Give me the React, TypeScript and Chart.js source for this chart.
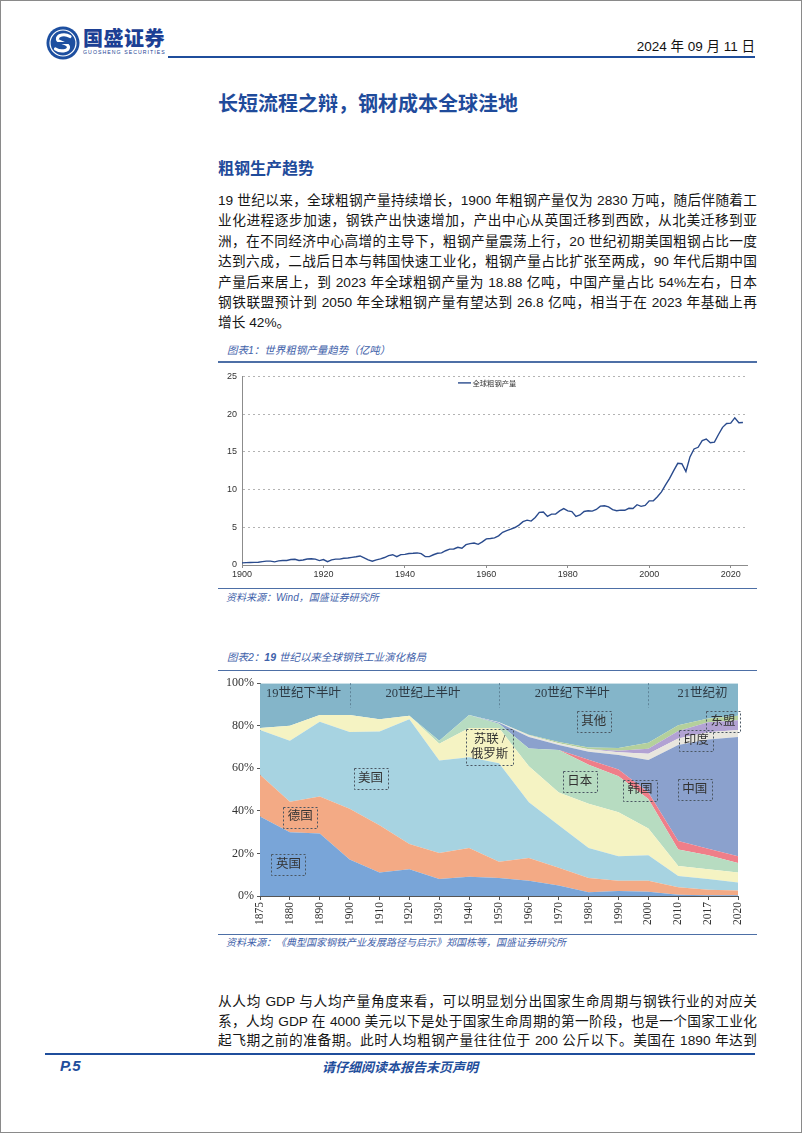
import React, { useEffect, useRef } from "react";
import { Chart, registerables } from "chart.js";

Chart.register(...registerables);

// ---------------- Chart 1: world crude steel output (亿吨) ----------------
const productionStartYear = 1900;
const worldCrudeSteel = [
  0.28, 0.31, 0.34, 0.35, 0.36, 0.44, 0.51, 0.52, 0.42, 0.54,
  0.60, 0.60, 0.72, 0.76, 0.60, 0.66, 0.80, 0.82, 0.78, 0.58,
  0.72, 0.44, 0.68, 0.78, 0.78, 0.90, 0.93, 1.01, 1.09, 1.20,
  0.95, 0.69, 0.50, 0.68, 0.82, 0.99, 1.24, 1.36, 1.10, 1.37,
  1.41, 1.52, 1.55, 1.60, 1.50, 1.13, 1.11, 1.36, 1.55, 1.60,
  1.89, 2.10, 2.12, 2.35, 2.23, 2.70, 2.83, 2.92, 2.74, 3.06,
  3.47, 3.51, 3.60, 3.86, 4.34, 4.56, 4.75, 4.97, 5.29, 5.74,
  5.95, 5.82, 6.30, 6.97, 7.03, 6.44, 6.75, 6.75, 7.17, 7.47,
  7.17, 7.07, 6.45, 6.63, 7.10, 7.19, 7.14, 7.36, 7.80, 7.86,
  7.70, 7.34, 7.20, 7.28, 7.25, 7.52, 7.50, 7.99, 7.77, 7.89,
  8.50, 8.52, 9.05, 9.70, 10.63, 11.48, 12.50, 13.48, 13.43, 12.39,
  14.33, 15.38, 15.60, 16.50, 16.70, 16.20, 16.28, 17.30, 18.25, 18.75,
  18.80, 19.51, 18.85, 18.88,
];
const productionYears = worldCrudeSteel.map((_, i) => productionStartYear + i);
const productionXTicks = [1900, 1920, 1940, 1960, 1980, 2000, 2020];
const productionYTicks = [0, 5, 10, 15, 20, 25];
const productionSeriesName = "全球粗钢产量";

// ---------------- Chart 2: share of world steel output (%) ----------------
const shareYears = ["1875", "1880", "1890", "1900", "1910", "1920", "1930", "1940", "1950", "1960", "1970", "1980", "1990", "2000", "2010", "2017", "2020"];
const shareUK = [37.4, 30, 29.4, 17.2, 11, 12.6, 8, 9, 8.4, 7.2, 4.9, 1.8, 2.3, 2, 0.6, 0.4, 0.3];
const shareGermany = [19.6, 14.3, 17.4, 23.8, 22.3, 11.8, 12.2, 13.5, 7.7, 10.7, 8.4, 6.6, 4.9, 5.2, 3.5, 2.5, 2.3];
const shareUS = [21, 28.6, 35.1, 36.1, 44, 58.7, 43.5, 42.7, 46.3, 26.1, 20, 14.1, 11.5, 12, 5.3, 5.1, 3.8];
const shareUSSR = [1, 7.1, 3.2, 8, 5.8, 1.6, 7.9, 13.8, 16.6, 17, 15.3, 20.8, 20.7, 12.5, 4.7, 4.6, 4.6];
const shareJapan = [0, 0, 0, 0, 0, 0, 1.3, 6, 2, 8.3, 20, 18.4, 16.9, 13.9, 7.7, 6.6, 4.5];
const shareKorea = [0, 0, 0, 0, 0, 0, 0, 0, 0, 0, 0, 2.3, 3.1, 3, 4.1, 3, 3.2];
const shareChina = [0, 0, 0, 0, 0, 0, 0, 0, 0.4, 5.4, 2.3, 3.8, 6.9, 15.3, 45.1, 51.3, 56];
const shareIndia = [0, 0, 0, 0, 0, 0, 0, 0, 0.2, 0.8, 0.9, 1.2, 1.3, 3, 3, 3.5, 3.3];
const shareASEAN = [0, 0, 0, 0, 0, 0, 0, 0, 0, 0, 0, 0, 0.7, 2.3, 3.5, 4.6, 4.6];
const shareMinor = [0, 0, 0, 0, 0, 0, 0, 0, 0, 0.3, 0.6, 0.8, 1.3, 2.8, 2.7, 1.8, 2.1];
const shareOther = [21, 20, 14.9, 14.9, 16.9, 15.3, 27.1, 15, 18.4, 24.2, 27.6, 30.2, 30.4, 28, 19.8, 16.6, 15.3];
const shareYTicks = [0, 20, 40, 60, 80, 100];

const shareSeries = [
  { name: "英国", data: shareUK, color: "#79a5d8" },
  { name: "德国", data: shareGermany, color: "#f3aa85" },
  { name: "美国", data: shareUS, color: "#a7d3e1" },
  { name: "苏联/俄罗斯", data: shareUSSR, color: "#f5f3c3" },
  { name: "日本", data: shareJapan, color: "#b7dcc1" },
  { name: "韩国", data: shareKorea, color: "#ef7e89" },
  { name: "中国", data: shareChina, color: "#8ba1cd" },
  { name: "印度", data: shareIndia, color: "#e8e6de" },
  { name: "东盟", data: shareASEAN, color: "#b2a2d3" },
  { name: "其他小国", data: shareMinor, color: "#b4d09c" },
  { name: "其他", data: shareOther, color: "#84b5c9" },
];

// annotations placed in data coordinates: [category index, percent]
const eraLabels = [
  { text: "19世纪下半叶", at: [1.46, 94.9] },
  { text: "20世纪上半叶", at: [5.46, 94.9] },
  { text: "20世纪下半叶", at: [10.45, 94.9] },
  { text: "21世纪初", at: [14.81, 94.9] },
];
const eraDividers = [3, 8, 13];
const countryTags = [
  { lines: ["英国"], at: [0.95, 14.7] },
  { lines: ["德国"], at: [1.35, 37.1] },
  { lines: ["美国"], at: [3.7, 55.2] },
  { lines: ["苏联 /", "俄罗斯"], at: [7.68, 70.1] },
  { lines: ["日本"], at: [10.7, 53.8] },
  { lines: ["其他"], at: [11.17, 81.9] },
  { lines: ["韩国"], at: [12.72, 49.8] },
  { lines: ["中国"], at: [14.55, 50] },
  { lines: ["印度"], at: [14.6, 73.2] },
  { lines: ["东盟"], at: [15.5, 81.9] },
];

// ---------------- text ----------------
const para1 = [
  "19 世纪以来，全球粗钢产量持续增长，1900 年粗钢产量仅为 2830 万吨，随后伴随着工",
  "业化进程逐步加速，钢铁产出快速增加，产出中心从英国迁移到西欧，从北美迁移到亚",
  "洲，在不同经济中心高增的主导下，粗钢产量震荡上行，20 世纪初期美国粗钢占比一度",
  "达到六成，二战后日本与韩国快速工业化，粗钢产量占比扩张至两成，90 年代后期中国",
  "产量后来居上，到 2023 年全球粗钢产量为 18.88 亿吨，中国产量占比 54%左右，日本",
  "钢铁联盟预计到 2050 年全球粗钢产量有望达到 26.8 亿吨，相当于在 2023 年基础上再",
  "增长 42%。",
];
const para2 = [
  "从人均 GDP 与人均产量角度来看，可以明显划分出国家生命周期与钢铁行业的对应关",
  "系，人均 GDP 在 4000 美元以下是处于国家生命周期的第一阶段，也是一个国家工业化",
  "起飞期之前的准备期。此时人均粗钢产量往往位于 200 公斤以下。美国在 1890 年达到",
];

const BLUE = "#1f4b9b";
const CAPTION = "#3f62aa";
const RULE = "#4d6fa6";
const SANS = '"Liberation Sans", "Noto Sans CJK SC", sans-serif';
const CJK = '"Noto Sans CJK SC", sans-serif';

function ProductionChart() {
  const ref = useRef<HTMLCanvasElement | null>(null);
  useEffect(() => {
    if (!ref.current) return;
    const legendPlugin = {
      id: "legend1",
      afterDatasetsDraw(chart: any) {
        const { ctx, chartArea } = chart;
        const x = chartArea.left + 216;
        const y = chartArea.top + 6.5;
        ctx.save();
        ctx.strokeStyle = "#2a4b8d";
        ctx.lineWidth = 1.4;
        ctx.beginPath();
        ctx.moveTo(x, y);
        ctx.lineTo(x + 13, y);
        ctx.stroke();
        ctx.fillStyle = "#333";
        ctx.font = '7.3px "Noto Sans CJK SC"';
        ctx.textBaseline = "middle";
        ctx.fillText(productionSeriesName, x + 14.5, y);
        ctx.restore();
      },
    };
    const chart = new Chart(ref.current, {
      type: "line",
      data: {
        datasets: [
          {
            label: productionSeriesName,
            data: productionYears.map((yr, i) => ({ x: yr, y: worldCrudeSteel[i] })),
            borderColor: "#2a4b8d",
            borderWidth: 1.4,
            pointRadius: 0,
            tension: 0,
            fill: false,
          },
        ],
      },
      options: {
        animation: false,
        responsive: false,
        devicePixelRatio: 1,
        layout: { padding: { left: 0, right: 10, top: 10, bottom: 0 } },
        plugins: { legend: { display: false }, tooltip: { enabled: false } },
        scales: {
          x: {
            type: "linear",
            min: 1900,
            max: 2024,
            afterBuildTicks: (s: any) => {
              s.ticks = productionXTicks.map((v) => ({ value: v }));
            },
            afterFit: (s: any) => {
              s.height = 21;
            },
            ticks: {
              color: "#333",
              font: { family: '"Liberation Sans"', size: 9 },
              padding: 1,
              maxRotation: 0,
              callback: (v: any) => String(v),
            },
            grid: { drawOnChartArea: false, drawTicks: true, tickLength: 3, color: "#8c8c8c" },
            border: { color: "#8c8c8c" },
          },
          y: {
            min: 0,
            max: 25,
            afterBuildTicks: (s: any) => {
              s.ticks = productionYTicks.map((v) => ({ value: v }));
            },
            afterFit: (s: any) => {
              s.width = 24;
            },
            ticks: { color: "#333", font: { family: '"Liberation Sans"', size: 9 }, padding: 5 },
            grid: {
              drawTicks: false,
              color: (c: any) => (c.tick && c.tick.value === 0 ? "rgba(0,0,0,0)" : "#b3b3b3"),
            },
            border: { color: "#8c8c8c", dash: [2, 3] },
          },
        },
      },
      plugins: [legendPlugin],
    } as any);
    return () => chart.destroy();
  }, []);
  return <canvas ref={ref} width={539} height={220} style={{ position: "absolute", left: 218, top: 366, width: 539, height: 220 }} />;
}

function ShareChart() {
  const ref = useRef<HTMLCanvasElement | null>(null);
  useEffect(() => {
    if (!ref.current) return;
    const overlay = {
      id: "overlay2",
      afterDatasetsDraw(chart: any) {
        const { ctx, scales } = chart;
        const xs = scales.x;
        const ys = scales.y;
        ctx.save();
        // era dividers
        ctx.strokeStyle = "#5f8498";
        ctx.lineWidth = 1;
        ctx.setLineDash([2, 2]);
        eraDividers.forEach((d) => {
          const px = Math.round(xs.getPixelForValue(d)) + 0.5;
          ctx.beginPath();
          ctx.moveTo(px, ys.getPixelForValue(100));
          ctx.lineTo(px, ys.getPixelForValue(88.5));
          ctx.stroke();
        });
        // era labels
        ctx.setLineDash([]);
        ctx.fillStyle = "#2d3a44";
        ctx.font = '12.5px "Liberation Serif", "Noto Sans CJK SC"';
        ctx.textAlign = "center";
        ctx.textBaseline = "middle";
        eraLabels.forEach((e) => {
          ctx.fillText(e.text, xs.getPixelForValue(e.at[0]), ys.getPixelForValue(e.at[1]));
        });
        // country tags with dashed boxes
        ctx.font = '12.5px "Liberation Serif", "Noto Sans CJK SC"';
        countryTags.forEach((t) => {
          const cx = xs.getPixelForValue(t.at[0]);
          const cy = ys.getPixelForValue(t.at[1]);
          const lh = 15;
          const w = Math.max(...t.lines.map((l) => ctx.measureText(l).width)) + 9;
          const h = t.lines.length * lh + 6;
          ctx.fillStyle = "#333";
          t.lines.forEach((l, i) => {
            ctx.fillText(l, cx, cy - ((t.lines.length - 1) * lh) / 2 + i * lh);
          });
          ctx.strokeStyle = "#4a5662";
          ctx.lineWidth = 1;
          ctx.setLineDash([2, 2]);
          ctx.strokeRect(Math.round(cx - w / 2) + 0.5, Math.round(cy - h / 2) + 0.5, Math.round(w), Math.round(h));
          ctx.setLineDash([]);
        });
        ctx.restore();
      },
    };
    const chart = new Chart(ref.current, {
      type: "line",
      data: {
        labels: shareYears,
        datasets: shareSeries.map((s, i) => ({
          label: s.name,
          data: s.data,
          backgroundColor: s.color,
          borderColor: "rgba(0,0,0,0)",
          borderWidth: 0,
          pointRadius: 0,
          tension: 0,
          fill: i === 0 ? "origin" : "-1",
        })),
      },
      options: {
        animation: false,
        responsive: false,
        devicePixelRatio: 1,
        layout: { padding: { left: 0, right: 19, top: 5, bottom: 0 } },
        plugins: { legend: { display: false }, tooltip: { enabled: false } },
        scales: {
          x: {
            type: "category",
            offset: false,
            afterFit: (s: any) => {
              s.height = 35;
            },
            ticks: {
              autoSkip: false,
              minRotation: 90,
              maxRotation: 90,
              color: "#333",
              font: { family: '"Liberation Serif"', size: 11.5 },
              padding: 2,
            },
            grid: { drawOnChartArea: false, tickLength: 4, color: "#555" },
            border: { color: "#555" },
          },
          y: {
            stacked: true,
            min: 0,
            max: 100,
            afterBuildTicks: (s: any) => {
              s.ticks = shareYTicks.map((v) => ({ value: v }));
            },
            afterFit: (s: any) => {
              s.width = 42;
            },
            ticks: {
              color: "#333",
              font: { family: '"Liberation Serif"', size: 12 },
              padding: 3,
              callback: (v: any) => v + "%",
            },
            grid: { drawOnChartArea: false, tickLength: 3, color: "#555" },
            border: { color: "#555" },
          },
        },
      },
      plugins: [overlay],
    } as any);
    return () => chart.destroy();
  }, []);
  return <canvas ref={ref} width={539} height={258} style={{ position: "absolute", left: 218, top: 673, width: 539, height: 258 }} />;
}

function Para({ lines, top, lh, fontSize, justifyLast }: { lines: string[]; top: number; lh: number; fontSize: number; justifyLast: boolean }) {
  return (
    <div style={{ position: "absolute", left: 218, top, width: 539, fontSize, lineHeight: lh + "px", fontFamily: SANS, color: "#161616" }}>
      {lines.map((l, i) => (
        <div
          key={i}
          style={{
            height: lh,
            textAlign: "justify",
            textAlignLast: i === lines.length - 1 && !justifyLast ? "left" : "justify",
          } as any}
        >
          {l}
        </div>
      ))}
    </div>
  );
}

function Logo() {
  return (
    <svg width={36} height={36} viewBox="0 0 36 36" style={{ position: "absolute", left: 45, top: 25 }}>
      <circle cx={18} cy={18} r={16.5} fill="#1d4fa0" />
      <circle cx={18} cy={18} r={13} fill="none" stroke="#fff" strokeWidth={1.2} />
      <path d="M25 11.5 C20 8.5 12 9.5 12.5 14.5 C13 18 23.5 17.5 23.5 22 C23.5 26.5 15 27 10.5 24" fill="none" stroke="#fff" strokeWidth={3.2} strokeLinecap="round" />
      <rect x={7} y={17} width={22} height={2} fill="#1d4fa0" />
    </svg>
  );
}

export default function App() {
  const abs = (s: any) => ({ position: "absolute", ...s } as any);
  return (
    <div style={{ position: "absolute", left: 0, top: 0, width: 802, height: 1133, background: "#fff", overflow: "hidden" }}>
      {/* header */}
      <Logo />
      <div style={abs({ left: 83, top: 26, fontFamily: CJK, fontWeight: 900, fontSize: 20, lineHeight: "24px", color: "#1c3f94", letterSpacing: 0.5 })}>国盛证券</div>
      <div style={abs({ left: 83, top: 49, fontFamily: '"Liberation Sans"', fontSize: 5.2, lineHeight: "7px", color: "#1c3f94", letterSpacing: 1.05 })}>GUOSHENG SECURITIES</div>
      <div style={abs({ left: 168, top: 56, width: 587, height: 2, background: "#1f4e9c" })} />
      <div style={abs({ right: 47, top: 38, fontFamily: SANS, fontSize: 13.5, lineHeight: "18px", color: "#111", whiteSpace: "nowrap" })}>2024 年 09 月 11 日</div>

      {/* titles */}
      <div style={abs({ left: 218, top: 90, fontFamily: CJK, fontWeight: 700, fontSize: 20, lineHeight: "26px", color: BLUE, whiteSpace: "nowrap" })}>长短流程之辩，钢材成本全球洼地</div>
      <div style={abs({ left: 218, top: 156, fontFamily: CJK, fontWeight: 700, fontSize: 16, lineHeight: "22px", color: BLUE, whiteSpace: "nowrap" })}>粗钢生产趋势</div>

      <Para lines={para1} top={191} lh={20.4} fontSize={13.7} justifyLast={false} />

      {/* chart 1 */}
      <div style={abs({ left: 227, top: 343, fontFamily: SANS, fontStyle: "italic", fontSize: 10.5, lineHeight: "15px", color: CAPTION, whiteSpace: "nowrap" })}>图表1：世界粗钢产量趋势（亿吨）</div>
      <div style={abs({ left: 218, top: 361, width: 539, height: 1.5, background: RULE })} />
      <ProductionChart />
      <div style={abs({ left: 218, top: 587.5, width: 539, height: 1, background: RULE })} />
      <div style={abs({ left: 226, top: 590, fontFamily: SANS, fontStyle: "italic", fontSize: 10, lineHeight: "15px", color: CAPTION, whiteSpace: "nowrap" })}>资料来源：Wind，国盛证券研究所</div>

      {/* chart 2 */}
      <div style={abs({ left: 227, top: 650, fontFamily: SANS, fontStyle: "italic", fontSize: 10.5, lineHeight: "15px", color: CAPTION, whiteSpace: "nowrap" })}>图表2：<b>19</b> 世纪以来全球钢铁工业演化格局</div>
      <div style={abs({ left: 218, top: 669.5, width: 539, height: 1.5, background: RULE })} />
      <ShareChart />
      <div style={abs({ left: 218, top: 934, width: 539, height: 1, background: RULE })} />
      <div style={abs({ left: 226, top: 935, fontFamily: SANS, fontStyle: "italic", fontSize: 10, lineHeight: "15px", color: CAPTION, whiteSpace: "nowrap" })}>资料来源：《典型国家钢铁产业发展路径与启示》郑国栋等，国盛证券研究所</div>

      <Para lines={para2} top={992} lh={19.7} fontSize={13.7} justifyLast={true} />

      {/* footer */}
      <div style={abs({ left: 45, top: 1053, width: 710, height: 1.5, background: "#1f4e9c" })} />
      <div style={abs({ left: 60, top: 1057, fontFamily: '"Liberation Sans"', fontStyle: "italic", fontWeight: 700, fontSize: 15, lineHeight: "18px", color: "#1f4e9c" })}>P.5</div>
      <div style={abs({ left: 320, top: 1058, width: 160, textAlign: "center", fontFamily: CJK, fontStyle: "italic", fontWeight: 700, fontSize: 13, lineHeight: "17px", color: "#1f4e9c", whiteSpace: "nowrap" })}>请仔细阅读本报告末页声明</div>

      {/* page frame */}
      <div style={abs({ left: 0, top: 0, width: 802, height: 1133, border: "1px solid #8a8a8a", boxSizing: "border-box", pointerEvents: "none" })} />
    </div>
  );
}
